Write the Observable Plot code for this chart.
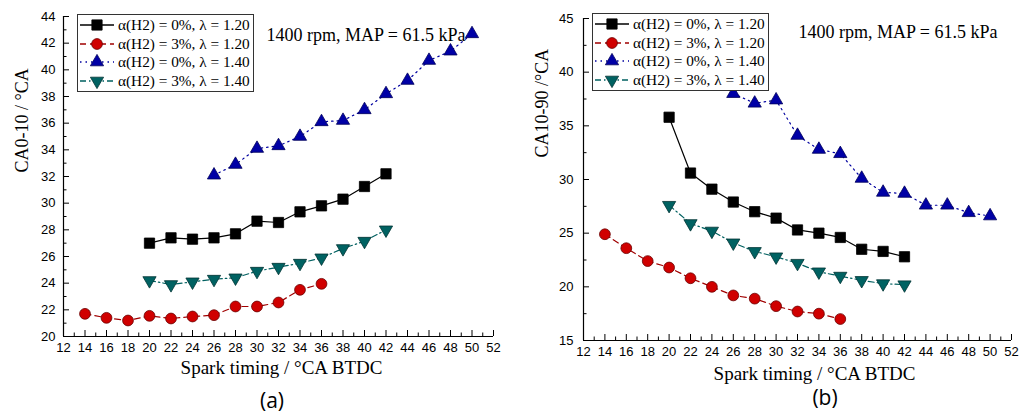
<!DOCTYPE html>
<html>
<head>
<meta charset="utf-8">
<script src="https://cdn.jsdelivr.net/npm/d3@7"></script>
<script src="https://cdn.jsdelivr.net/npm/@observablehq/plot@0.6"></script>
<style>
  html, body { margin: 0; padding: 0; background: #fff; }
  #wrap { position: relative; width: 1020px; height: 416px; overflow: hidden; }
  .panel { position: absolute; top: 0; }
  .legend { position: absolute; border: 1px solid #333; background: #fff; padding: 1px 3px 1px 1px;
            font-family: "Liberation Serif", serif; font-size: 15.3px; line-height: 18.5px; }
  .legend div { display: flex; align-items: center; white-space: nowrap; }
  .legend svg { margin-right: 3px; }
  .cap { position: absolute; font-family: "Open Sans", sans-serif; font-size: 21px; transform: translateX(-50%); }
</style>
</head>
<body>
<div id="wrap">
  <div id="pa" class="panel" style="left:0"></div>
  <div id="pb" class="panel" style="left:510px"></div>
  <div id="la" class="legend" style="left:77px;top:14px"></div>
  <div id="lb" class="legend" style="left:592px;top:13px"></div>
  <div class="cap" style="left:272px;top:386px">(a)</div>
  <div class="cap" style="left:825px;top:383px">(b)</div>
</div>
<script>
// ---- data ----
const seriesNames = ["α(H2) = 0%, λ = 1.20", "α(H2) = 3%, λ = 1.20", "α(H2) = 0%, λ = 1.40", "α(H2) = 3%, λ = 1.40"];
const spark20to42 = [20, 22, 24, 26, 28, 30, 32, 34, 36, 38, 40, 42];
const spark14to36 = [14, 16, 18, 20, 22, 24, 26, 28, 30, 32, 34, 36];
const spark26to50 = [26, 28, 30, 32, 34, 36, 38, 40, 42, 44, 46, 48, 50];

// (a) CA0-10
const a_h0_l120 = [27.0, 27.4, 27.3, 27.4, 27.7, 28.65, 28.55, 29.35, 29.8, 30.3, 31.25, 32.2];
const a_h3_l120 = [21.7, 21.4, 21.2, 21.55, 21.35, 21.5, 21.6, 22.25, 22.25, 22.55, 23.5, 23.95];
const a_h0_l140 = [32.1, 32.9, 34.1, 34.3, 35.0, 36.1, 36.2, 37.0, 38.2, 39.2, 40.7, 41.4, 42.7];
const a_h3_l140 = [24.2, 23.9, 24.1, 24.3, 24.4, 24.9, 25.2, 25.5, 25.9, 26.6, 27.15, 28.0];

// (b) CA10-90
const b_h0_l120 = [35.8, 30.6, 29.1, 27.9, 27.0, 26.4, 25.3, 25.0, 24.6, 23.5, 23.3, 22.8];
const b_h3_l120 = [24.9, 23.6, 22.4, 21.8, 20.8, 20.0, 19.2, 18.9, 18.2, 17.7, 17.5, 17.0];
const b_h0_l140 = [38.0, 37.1, 37.4, 34.1, 32.8, 32.4, 30.1, 28.8, 28.7, 27.6, 27.6, 26.9, 26.6];
const b_h3_l140 = [27.6, 25.9, 25.2, 24.1, 23.3, 22.8, 22.2, 21.4, 21.0, 20.6, 20.3, 20.2];

const xMajorTicks = [12, 14, 16, 18, 20, 22, 24, 26, 28, 30, 32, 34, 36, 38, 40, 42, 44, 46, 48, 50, 52];
const xMinorTicks = [13, 15, 17, 19, 21, 23, 25, 27, 29, 31, 33, 35, 37, 39, 41, 43, 45, 47, 49, 51];
const aYMajor = [20, 22, 24, 26, 28, 30, 32, 34, 36, 38, 40, 42, 44];
const aYMinor = [21, 23, 25, 27, 29, 31, 33, 35, 37, 39, 41, 43];
const bYMajor = [15, 20, 25, 30, 35, 40, 45];
const bYMinor = [17.5, 22.5, 27.5, 32.5, 37.5, 42.5];

const annotation = "1400 rpm, MAP = 61.5 kPa";
const xLabel = "Spark timing / °CA BTDC";

// ---- styles ----
const styles = [
  {stroke: "#000", fill: "#000", mstroke: "#000", symbol: "square", r: 5.8, rotate: 0, dash: null},
  {stroke: "#a00000", fill: "#d00000", mstroke: "#6a0000", symbol: "circle", r: 5.4, rotate: 0, dash: "6,4"},
  {stroke: "#0000a0", fill: "#0000a6", mstroke: "#00005a", symbol: "triangle", r: 4.9, rotate: 0, dash: "1.5,4"},
  {stroke: "#006060", fill: "#006262", mstroke: "#003434", symbol: "triangle", r: 4.9, rotate: 180, dash: "6,3,1.5,3"}
];

function rows(xs, ys, k) { return xs.map((x, i) => ({x, y: ys[i], k})); }

function panel({el, series, yDomain, yMajor, yMinor, yLabel, W, H, mL, mR, mT, mB, yPad, xLabDy, xLabDx, yLabDx, yLabDy, annDx, annDy}) {
  const plotH = H - mT - mB, plotW = W - mL - mR;
  const marks = [];
  marks.push(Plot.ruleY([yDomain[0]], {stroke: "#000", strokeWidth: 1.2}));
  marks.push(Plot.ruleX([12], {stroke: "#000", strokeWidth: 1.2}));
  marks.push(Plot.tickX(xMajorTicks, {x: d => d, insetTop: plotH - 6, stroke: "#000"}));
  marks.push(Plot.tickX(xMinorTicks, {x: d => d, insetTop: plotH - 3.5, stroke: "#000"}));
  marks.push(Plot.tickY(yMajor, {y: d => d, insetRight: plotW - 6, stroke: "#000"}));
  marks.push(Plot.tickY(yMinor, {y: d => d, insetRight: plotW - 3.5, stroke: "#000"}));
  marks.push(Plot.axisX({ticks: xMajorTicks, tickSize: 0, tickPadding: 6, label: null, fontSize: 13, fontFamily: "Liberation Sans"}));
  marks.push(Plot.axisY({ticks: yMajor, tickSize: 0, tickPadding: yPad, label: null, fontSize: 13, fontFamily: "Liberation Sans"}));
  series.forEach((d, i) => {
    const s = styles[i];
    marks.push(Plot.line(d, {x: "x", y: "y", stroke: s.stroke, strokeWidth: 1.2, strokeDasharray: s.dash}));
  });
  series.forEach((d, i) => {
    const s = styles[i];
    marks.push(Plot.dot(d, {x: "x", y: "y", symbol: s.symbol, r: s.r, rotate: s.rotate, fill: s.fill, stroke: s.mstroke, strokeWidth: 0.8}));
  });
  marks.push(Plot.text([xLabel], {text: d => d, frameAnchor: "bottom", dy: xLabDy, dx: xLabDx, fontFamily: "Liberation Serif", fontSize: 19, fill: "#000"}));
  marks.push(Plot.text([yLabel], {text: d => d, frameAnchor: "left", rotate: -90, dx: yLabDx, dy: yLabDy, fontFamily: "Liberation Serif", fontSize: 18, fill: "#000"}));
  marks.push(Plot.text([annotation], {text: d => d, frameAnchor: "top-right", textAnchor: "end", dx: annDx, dy: annDy, fontFamily: "Liberation Serif", fontSize: 18, fill: "#000"}));

  const p = Plot.plot({
    width: W, height: H, marginLeft: mL, marginRight: mR, marginTop: mT, marginBottom: mB,
    x: {domain: [12, 52], axis: null},
    y: {domain: yDomain, axis: null},
    style: {fontFamily: "Liberation Sans", fontSize: "13px", background: "transparent", overflow: "visible"},
    marks
  });
  document.getElementById(el).appendChild(p);
}

panel({
  el: "pa",
  series: [rows(spark20to42, a_h0_l120), rows(spark14to36, a_h3_l120), rows(spark26to50, a_h0_l140), rows(spark20to42, a_h3_l140)],
  yDomain: [20, 44], yMajor: aYMajor, yMinor: aYMinor, yLabel: "CA0-10 / °CA",
  W: 510, H: 390, mL: 63, mR: 17, mT: 16, mB: 54, yPad: 8,
  xLabDy: 37, xLabDx: 3, yLabDx: -41, yLabDy: -4, annDx: -28, annDy: 12
});
panel({
  el: "pb",
  series: [rows(spark20to42, b_h0_l120), rows(spark14to36, b_h3_l120), rows(spark26to50, b_h0_l140), rows(spark20to42, b_h3_l140)],
  yDomain: [15, 45], yMajor: bYMajor, yMinor: bYMinor, yLabel: "CA10-90 /°CA",
  W: 510, H: 390, mL: 73, mR: 9, mT: 18, mB: 50, yPad: 10,
  xLabDy: 39, xLabDx: 17, yLabDx: -41, yLabDy: -22, annDx: -14, annDy: 7
});

function legendSymbol(s) {
  const ns = "http://www.w3.org/2000/svg";
  const svg = document.createElementNS(ns, "svg");
  svg.setAttribute("width", 36); svg.setAttribute("height", 16);
  const line = document.createElementNS(ns, "line");
  line.setAttribute("x1", 1); line.setAttribute("x2", 35); line.setAttribute("y1", 8); line.setAttribute("y2", 8);
  line.setAttribute("stroke", s.stroke); line.setAttribute("stroke-width", 1.4);
  if (s.dash) line.setAttribute("stroke-dasharray", s.dash);
  svg.appendChild(line);
  const sym = document.createElementNS(ns, "path");
  const symType = s.symbol === "square" ? d3.symbolSquare : s.symbol === "circle" ? d3.symbolCircle : d3.symbolTriangle;
  sym.setAttribute("d", d3.symbol(symType, Math.PI * s.r * s.r)());
  sym.setAttribute("transform", `translate(18,8) rotate(${s.rotate})`);
  sym.setAttribute("fill", s.fill); sym.setAttribute("stroke", s.mstroke); sym.setAttribute("stroke-width", 0.8);
  svg.appendChild(sym);
  return svg;
}
for (const id of ["la", "lb"]) {
  const box = document.getElementById(id);
  seriesNames.forEach((name, i) => {
    const row = document.createElement("div");
    row.appendChild(legendSymbol(styles[i]));
    const t = document.createElement("span");
    t.textContent = name;
    row.appendChild(t);
    box.appendChild(row);
  });
}
</script>
</body>
</html>
